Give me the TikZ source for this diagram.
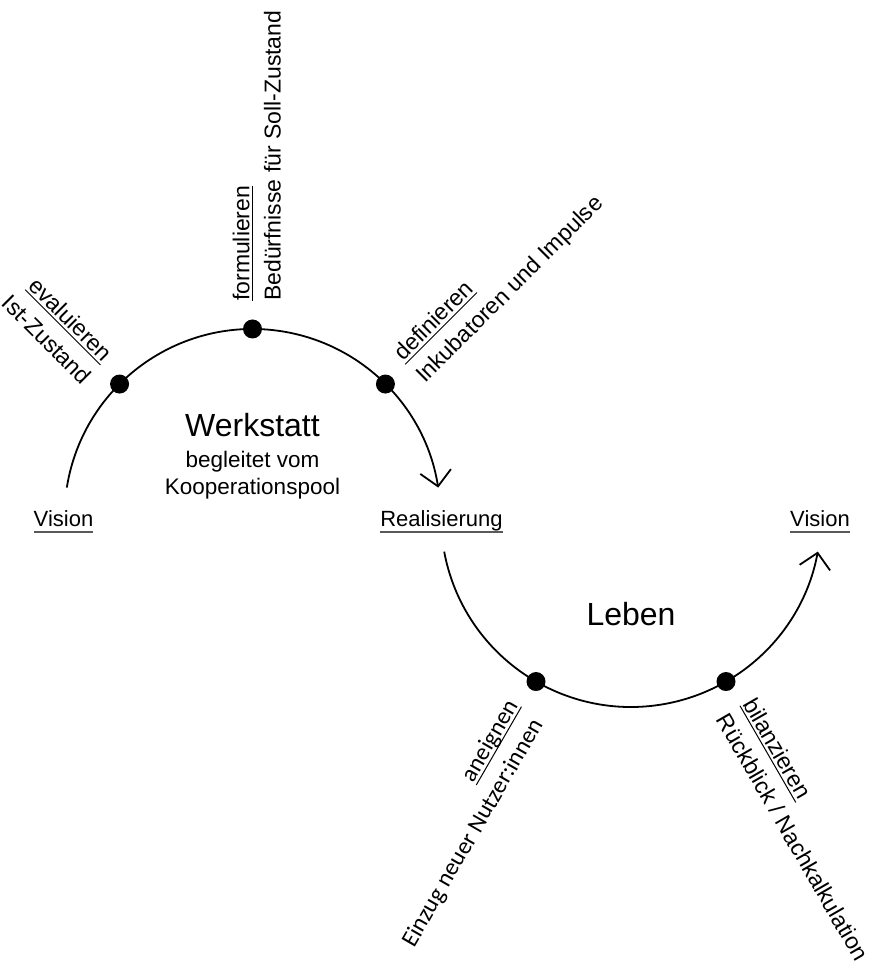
\documentclass[tikz,border=0pt]{standalone}
\usepackage{fontspec}
\setmainfont{Liberation Sans}
\newfontfamily\calfont{Carlito}
\usetikzlibrary{arrows.meta}
\tikzset{
  arcline/.style={line width=1.8pt},
  arrowtip/.style={-{Straight Barb[length=15pt,width=31pt,line width=1.8pt]}},
  stationdot/.style={circle,fill=black,inner sep=0pt,minimum size=19pt},
  verbnode/.style={inner xsep=0pt,inner ysep=3pt,text depth=0pt,font=\fontsize{23}{23}\selectfont},
  descnode/.style={inner sep=0pt,font=\fontsize{23}{23}\selectfont},
  rulestyle/.style={line width=1pt},
  mainlabel/.style={inner sep=0pt,font=\fontsize{22}{22}\selectfont},
  ulstyle/.style={line width=1.3pt,black!65},
  titlenode/.style={inner sep=0pt,font=\fontsize{32}{32}\selectfont},
  subnode/.style={inner sep=0pt,font=\fontsize{22.5}{22.5}\selectfont},
}
\begin{document}
\begin{tikzpicture}[x=1pt,y=1pt]
\useasboundingbox (0,0) rectangle (873,967);
\coordinate (cW) at (252.5,450);
\coordinate (cL) at (631,450);
\def\Rt{188}
\def\Rb{190}
% arcs
\draw[arcline,arrowtip] ([shift={(171:\Rt)}]cW) arc[start angle=171,end angle=9,radius=\Rt];
\draw[arcline,arrowtip] ([shift={(190.5:\Rb)}]cL) arc[start angle=190.5,end angle=349.5,radius=\Rb];
% dots
\node[stationdot] (d1) at ([shift={(135:\Rt)}]cW) {};
\node[stationdot] (d2) at ([shift={(90:\Rt)}]cW) {};
\node[stationdot] (d3) at ([shift={(45:\Rt)}]cW) {};
\node[stationdot] (d4) at ([shift={(240:\Rb)}]cL) {};
\node[stationdot] (d5) at ([shift={(300:\Rb)}]cL) {};
% label 1 (inward)
\begin{scope}[shift={(d1.center)},rotate=-45,transform shape]
  \node[verbnode,anchor=south east] (v1) at (-27,0) {evaluieren};
  \node[descnode,anchor=base east] (t1) at (-25,-28) {Ist-Zustand};
  \draw[rulestyle] (v1.south west) -- (v1.south east);
\end{scope}
% label 2 (outward)
\begin{scope}[shift={(d2.center)},rotate=90,transform shape]
  \node[verbnode,anchor=south west] (v2) at (28,0) {formulieren};
  \node[descnode,anchor=base west] (t2) at (28,-28) {Bedürfnisse für Soll-Zustand};
  \draw[rulestyle] (v2.south west) -- (v2.south east);
\end{scope}
% label 3 (outward)
\begin{scope}[shift={(d3.center)},rotate=45,transform shape]
  \node[verbnode,anchor=south west] (v3) at (28,0) {definieren};
  \node[descnode,anchor=base west] (t3) at (28,-28) {Inkubatoren und Impulse};
  \draw[rulestyle] (v3.south west) -- (v3.south east);
\end{scope}
% label 4 (inward)
\begin{scope}[shift={(d4.center)},rotate=60,transform shape]
  \node[verbnode,anchor=south east,font=\calfont\fontsize{24}{24}\selectfont] (v4) at (-29,0) {aneignen};
  \node[descnode,anchor=base east,font=\calfont\fontsize{24}{24}\selectfont] (t4) at (-33,-28) {Einzug neuer Nutzer:innen};
  \draw[rulestyle] (v4.south west) -- (v4.south east);
\end{scope}
% label 5 (outward)
\begin{scope}[shift={(d5.center)},rotate=-60,transform shape]
  \node[verbnode,anchor=south west] (v5) at (28,0) {bilanzieren};
  \node[descnode,anchor=base west] (t5) at (28,-28) {Rückblick / Nachkalkulation};
  \draw[rulestyle] (v5.south west) -- (v5.south east);
\end{scope}
% main labels
\node[mainlabel,anchor=base] (vl) at (63.5,440) {Vision};
\draw[ulstyle] ([yshift=-5pt]vl.base west) -- ([yshift=-5pt]vl.base east);
\node[mainlabel,anchor=base] (re) at (441.5,440) {Realisierung};
\draw[ulstyle] ([yshift=-5pt]re.base west) -- ([yshift=-5pt]re.base east);
\node[mainlabel,anchor=base] (vr) at (820,440) {Vision};
\draw[ulstyle] ([yshift=-5pt]vr.base west) -- ([yshift=-5pt]vr.base east);
% titles
\node[titlenode,anchor=base] (werk) at (252.5,530) {Werkstatt};
\node[subnode,anchor=base] (beg) at (252.5,499.5) {begleitet vom};
\node[subnode,anchor=base] (koop) at (252.5,472) {Kooperationspool};
\node[titlenode,anchor=base] (leben) at (631,341) {Leben};
\end{tikzpicture}
\end{document}
